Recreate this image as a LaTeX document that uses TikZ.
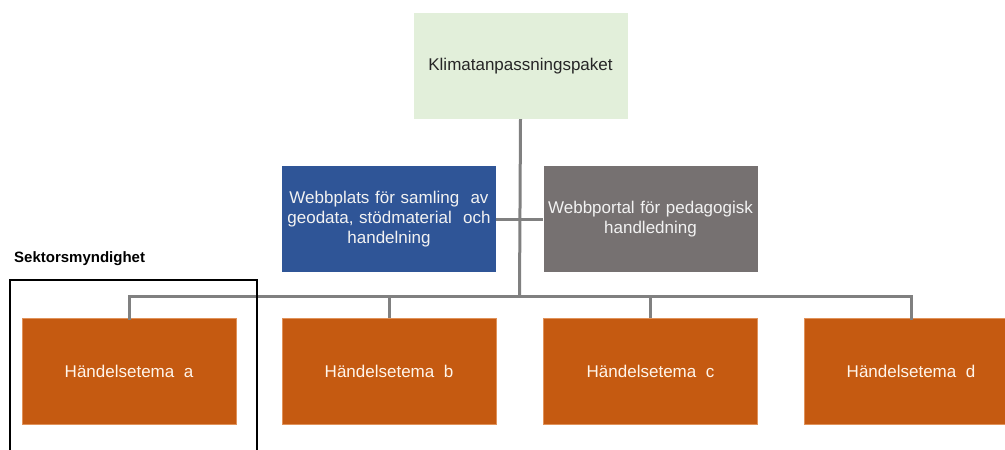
\documentclass[tikz,border=0pt]{standalone}
\usepackage{fontspec}
\setmainfont{Liberation Sans}
\usepackage{tikz}
\usetikzlibrary{arrows.meta, positioning}

\definecolor{paketgreen}{HTML}{E2EFDA}
\definecolor{webbblue}{HTML}{2F5597}
\definecolor{portalgrey}{HTML}{767171}
\definecolor{temaorange}{HTML}{C55A11}
\definecolor{temaedge}{HTML}{E0925A}
\definecolor{linegrey}{HTML}{808080}

\begin{document}
\begin{tikzpicture}[
      x=1pt,
      y=-1pt,
      box/.style={
         shape=rectangle,
         minimum width=214pt,
         minimum height=106pt,
         inner sep=2pt,
         align=center,
         font=\fontsize{17}{20}\selectfont
      },
      paket/.style={box, fill=paketgreen, text=black!85},
      webb/.style={box, fill=webbblue, text=white!95!black, text width=206pt},
      portal/.style={box, fill=portalgrey, text=white!95!black, text width=210pt},
      tema/.style={box, fill=temaorange, draw=temaedge, line width=0.6pt, text=white!92!orange},
      link/.style={draw=linegrey, line width=3pt}
   ]

      \clip (0,0) rectangle (1005,450);

      \node[paket] (paket) at (520.5,66) {Klimatanpassningspaket};
      \node[webb] (webb) at (389,219) {Webbplats för samling~ av\\geodata, stödmaterial~ och\\handelning};
      \node[portal] (portal) at (650.5,219) {Webbportal för pedagogisk\\handledning};

      \node[tema] (temaa) at (129,371.5) {Händelsetema~ a};
      \node[tema] (temab) at (389,371.5) {Händelsetema~ b};
      \node[tema] (temac) at (650.5,371.5) {Händelsetema~ c};
      \node[tema] (temad) at (911,371.5) {Händelsetema~ d};

      % connectors
      \coordinate (bar) at (519.5,296);
      \draw[link] (paket.south) -- (bar);
      \draw[link] (webb.east) -- (portal.west);
      \draw[link, line cap=rect] (temaa.north) |- (bar) -| (temad.north);
      \draw[link] (temab.north) -- (temab.north |- bar);
      \draw[link] (temac.north) -- (temac.north |- bar);

      % sektorsmyndighet
      \node[anchor=south west, inner sep=0pt, font=\bfseries\fontsize{15}{18}\selectfont] (sektor) at (14,266) {Sektorsmyndighet};
      \draw[black, line width=2pt] (10,460) |- (257,280) -- (257,460);

   \end{tikzpicture}
\end{document}
